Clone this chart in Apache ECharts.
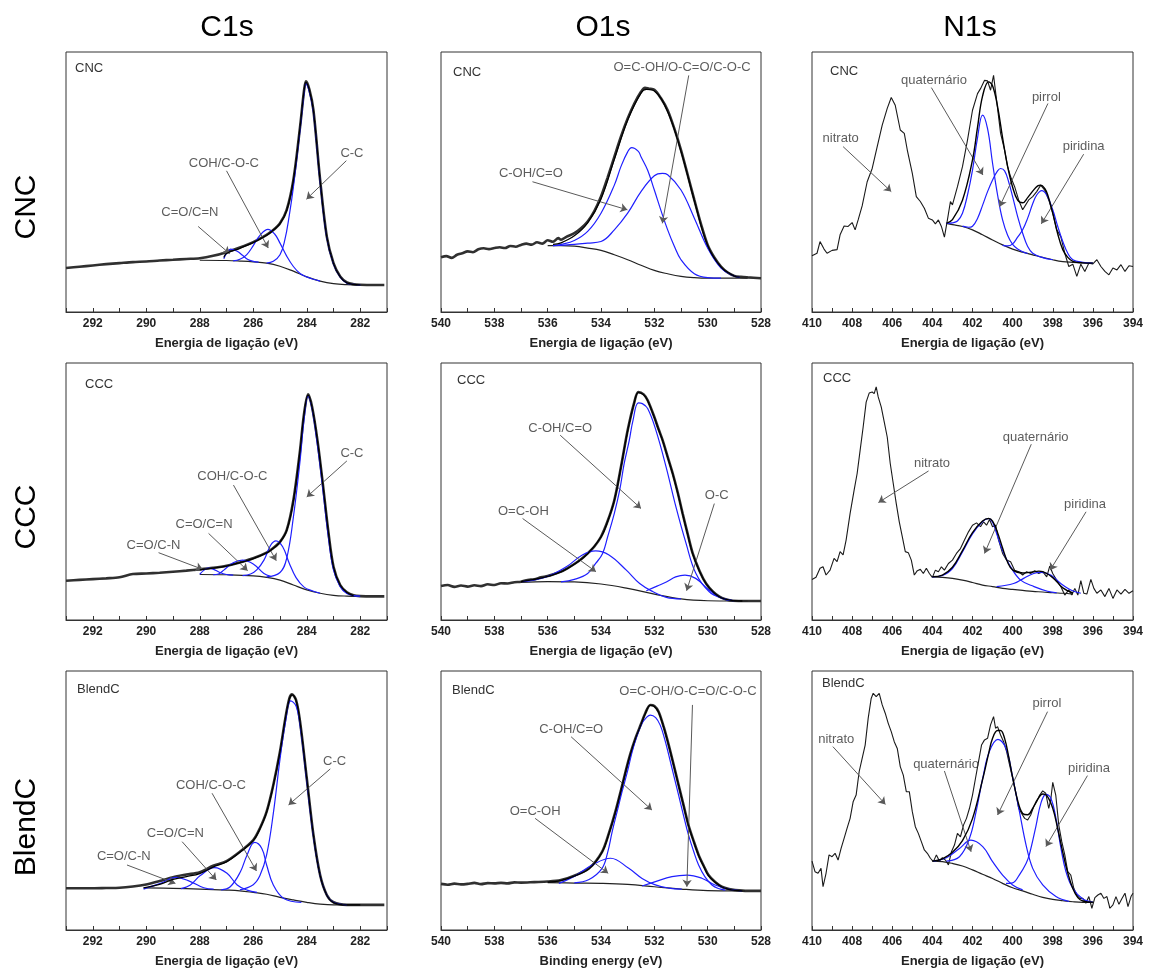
<!DOCTYPE html>
<html><head><meta charset="utf-8">
<script src="https://cdn.jsdelivr.net/npm/echarts@6.0.0/dist/echarts.min.js"></script>
<style>html,body{margin:0;padding:0;background:#fff}#c{width:1149px;height:972px}</style>
</head><body><div id="c"></div>
<script>
// ---------- Column / row headings ----------
const COLUMN_TITLES = ['C1s', 'O1s', 'N1s'];
const ROW_TITLES = ['CNC', 'CCC', 'BlendC'];
const X_NAMES = ['Energia de ligação (eV)', 'Energia de ligação (eV)', 'Energia de ligação (eV)',
                 'Energia de ligação (eV)', 'Energia de ligação (eV)', 'Energia de ligação (eV)',
                 'Energia de ligação (eV)', 'Binding energy (eV)', 'Energia de ligação (eV)'];
const X_RANGES = [[281, 293], [528, 540], [394, 410]];

// ---------- C1s CNC ----------
const C1S_CNC_RAW = [[293,16.9],[292.5,17.4],[292,17.9],[291.5,18.4],[291,18.8],[290.5,19.2],[290,19.4],[289.5,19.8],[289,20.1],[288.5,20.4],[288,20.7],[287.5,21.6],[287,23.0],[286.5,24.8],[286,26.9],[285.5,29.7],[285.25,31.5],[285,34.1],[284.75,39.3],[284.5,50.8],[284.25,71.2],[284.1,85.3],[284.03,88.7],[283.9,85.5],[283.75,77.6],[283.5,50.8],[283.25,29],[283,18.8],[282.75,13.7],[282.5,11.4],[282.25,10.7],[282,10.5],[281.5,10.4],[281.1,10.4]];
const C1S_CNC_BG = [[288,19.9],[287,19.8],[286.5,19.6],[286,19.3],[285.5,18.8],[285,17.6],[284.5,15.7],[284,13.5],[283.5,11.9],[283,10.9],[282.5,10.5],[282,10.4]];
const C1S_CNC_ENV = [[287.1,21.0],[287,22.5],[286.5,24.5],[286,26.7],[285.5,29.5],[285.25,31.5],[285,34],[284.75,39],[284.5,50.5],[284.25,71],[284.1,85],[284.03,88.3],[283.9,85.2],[283.75,77.3],[283.5,50.5],[283.25,28.8],[283,18.6],[282.75,13.5],[282.5,11.2],[282,10.4]];
const C1S_CNC_CC = [[285.5,18.8],[285.25,19.5],[285,22],[284.82,27.7],[284.66,36.7],[284.5,48],[284.25,70],[284.1,84],[284.03,87.8],[283.9,84.5],[283.75,76.8],[283.5,50],[283.25,28.5],[283,18.4],[282.75,13.4],[282.5,11.1],[282.25,10.6],[282,10.4]];
const C1S_CNC_COH = [[286.75,19.7],[286.5,20.3],[286.25,22],[286,25.5],[285.75,29.5],[285.45,31.8],[285.2,30],[285,26.5],[284.75,21.5],[284.5,17.5],[284.25,14.8],[284,13.5],[283.75,12.6],[283.5,11.9]];
const C1S_CNC_CON = [[287.1,20.5],[287,22.5],[286.85,24.2],[286.6,23.4],[286.4,21.8],[286.2,20.2],[286,19.5],[285.8,19.2]];
const C1S_CNC_TEXT = [[288.37,38.4,'C=O/C=N'],[287.10,57.2,'COH/C-O-C'],[282.31,61.0,'C-C']];
const C1S_CNC_ARROWS = [[288.06,32.9,286.88,22.4],[287.0,54.3,285.44,24.6],[282.52,58.2,284.01,43.4]];

// ---------- O1s CNC ----------
const O1S_CNC_RAW = [[540,21.1],[539.8,21.5],[539.6,20.8],[539.4,22.0],[539.2,22.6],[539,23.3],[538.8,23.0],[538.6,24.1],[538.4,24.5],[538.2,24.2],[538,24.6],[537.8,24.9],[537.6,24.6],[537.4,25.4],[537.2,25.1],[537,25.8],[536.8,26.3],[536.6,25.9],[536.4,26.8],[536.2,26.3],[536,27.6],[535.8,27.0],[535.6,28.4],[535.5,27.8],[535.3,28.9],[535,30.3],[534.75,32.2],[534.5,34.8],[534.25,38.8],[534,44.4],[533.75,51.8],[533.5,59.7],[533.25,67.5],[533,74.4],[532.75,80.2],[532.5,84.7],[532.35,86.2],[532.2,85.9],[532,85.5],[531.75,82.2],[531.5,77.6],[531.25,70.5],[531,62.3],[530.75,52.8],[530.5,43.1],[530.25,33.8],[530,25.8],[529.75,21.0],[529.5,17.5],[529.25,15.2],[529,13.9],[528.75,13.5],[528.5,13.3],[528,13.0]];
const O1S_CNC_BG = [[536,25.5],[535.5,25.5],[535,25.3],[534.5,24.6],[534,23.7],[533.5,22.0],[533,20.1],[532.5,18.0],[532,16.0],[531.5,14.7],[531,13.7],[530.5,13.2],[530,13.0],[529,13.0],[528.5,13.0]];
const O1S_CNC_ENV = [[535.8,26.0],[535.5,26.6],[535,29.3],[534.5,34.3],[534,43.5],[533.5,58.7],[533,73.8],[532.5,84.2],[532.3,85.6],[532,85.0],[531.5,77.0],[531,61.8],[530.5,42.8],[530,25.6],[529.5,17.3],[529,13.8],[528.8,13.4]];
const O1S_CNC_CO = [[535.8,25.5],[535.5,26],[535,27.5],[534.5,31],[534,38],[533.5,48.8],[533.25,56],[533,61.6],[532.85,63.2],[532.6,61.8],[532.5,59.7],[532.25,54.5],[532,46.9],[531.75,39],[531.5,31.6],[531.25,25.3],[531,20.1],[530.5,14.7],[530,13.2],[529.5,13.0]];
const O1S_CNC_OCO = [[535.8,25.5],[535,26],[534.5,26.5],[534,27.1],[533.5,31.6],[533,38.0],[532.5,46.3],[532,52.4],[531.7,53.3],[531.5,52.8],[531,46.9],[530.5,36.1],[530,24.6],[529.5,16.9],[529,13.8],[528.8,13.3]];
const O1S_CNC_TEXT = [[530.96,94.2,'O=C-OH/O-C=O/C-O-C'],[536.63,53.3,'C-OH/C=O']];
const O1S_CNC_ARROWS = [[530.71,91.0,531.70,34.1],[536.57,50.1,533.01,39.3]];

// ---------- N1s CNC ----------
const N1S_CNC_RAW = [[410,21.6],[409.75,22.6],[409.6,27.1],[409.4,24.2],[409.25,22.6],[409,23.7],[408.75,24.0],[408.6,29.7],[408.4,33.1],[408.2,32.9],[408,34.4],[407.85,31.6],[407.7,35.4],[407.5,40.8],[407.25,50.1],[407,55.2],[406.75,63.6],[406.5,71.9],[406.25,78.3],[406.05,82.5],[405.85,79.5],[405.6,70.0],[405.4,68.7],[405.25,62.3],[405,53.3],[404.8,44.4],[404.6,42.5],[404.4,39.9],[404.2,36.1],[404,35.4],[403.85,33.9],[403.7,35.4],[403.55,32.9],[403.4,28.8],[403.25,35.4],[403.1,42.5],[403.0,41.2],[402.75,48.2],[402.5,55.9],[402.25,66.1],[402,77.6],[401.75,84.0],[401.6,85.9],[401.4,89.1],[401.25,88.9],[401.1,85.3],[400.95,91.0],[400.8,81.5],[400.6,68.7],[400.4,62.3],[400.25,55.9],[400.1,52.0],[399.9,48.2],[399.7,43.1],[399.5,39.3],[399.35,41.2],[399.2,43.1],[399,44.4],[398.8,46.3],[398.6,48.8],[398.4,46.9],[398.2,43.1],[398,38.0],[397.8,31.6],[397.6,29.0],[397.4,22.6],[397.2,17.5],[397,18.4],[396.8,13.7],[396.6,18.4],[396.4,15.6],[396.2,18.8],[396,18.5],[395.8,20.1],[395.6,17.5],[395.4,15.6],[395.2,14.3],[395,16.9],[394.8,16.2],[394.6,18.2],[394.4,15.6],[394.2,17.8],[394,17.5]];
const N1S_CNC_BG = [[403.3,34.1],[403,33.6],[402.5,32.9],[402,31.6],[401.5,29.7],[401,27.7],[400.5,25.8],[400,24.2],[399.5,23.0],[399,22.0],[398.5,21.0],[398,20.1],[397.5,19.4],[397,19.1],[396.5,18.9],[396,18.8]];
const N1S_CNC_ENV = [[403.3,34.1],[403,35.5],[402.5,43],[402,58.5],[401.75,71],[401.5,83],[401.2,88.5],[401,87],[400.75,79],[400.5,67],[400.25,56],[400,48],[399.75,43],[399.5,42],[399.25,44],[399,46.5],[398.75,48.5],[398.6,48.8],[398.4,47.5],[398.25,45],[398,38],[397.75,30],[397.5,24],[397.25,21],[397,19.5],[396.5,18.9],[396,18.8]];
const N1S_CNC_Q = [[403.3,34.1],[403,34.3],[402.75,35],[402.5,38],[402.25,45],[402,54.6],[401.75,67],[401.5,75.7],[401.25,70.5],[401,57.2],[400.75,45],[400.5,35.4],[400.25,29.5],[400,26],[399.75,24.2],[399.5,23.2],[399.25,22.5]];
const N1S_CNC_P = [[402.5,33],[402.2,32.6],[402,33],[401.75,36],[401.5,41],[401.25,46.3],[401,50.8],[400.75,54.3],[400.6,55.2],[400.4,54.3],[400.2,50.1],[400,44.4],[399.75,36.7],[399.5,30.3],[399.25,25.2],[399,22.6],[398.5,20.9],[398,20.1]];
const N1S_CNC_PY = [[400.5,25.6],[400.25,25.4],[400,26.2],[399.75,28.8],[399.5,31.6],[399.25,36.1],[399,41.6],[398.8,45.0],[398.55,46.7],[398.3,45.0],[398,39.3],[397.75,32.9],[397.5,27.1],[397.25,22.6],[397,20.1],[396.5,19.1],[396,18.8]];
const N1S_CNC_TEXT = [[408.57,66.8,'nitrato'],[403.92,89.1,'quaternário'],[398.32,82.7,'pirrol'],[396.46,63.6,'piridina']];
const N1S_CNC_ARROWS = [[408.45,63.6,406.05,46.3],[404.05,86.3,401.48,52.7],[398.24,80.2,400.65,40.5],[396.46,60.7,398.57,33.9]];

// ---------- C1s CCC ----------
const C1S_CCC_RAW = [[293,15.3],[292.5,15.6],[292,15.9],[291.5,16.2],[291,16.6],[290.5,17.9],[290,18.1],[289.5,18.4],[289,18.8],[288.5,19.2],[288,19.7],[287.5,20.3],[287,21.1],[286.5,22.4],[286,24.0],[285.5,26.2],[285.25,28],[285,30.4],[284.75,35.0],[284.5,46.6],[284.25,66.1],[284.1,80.3],[283.95,87.8],[283.8,82.9],[283.6,69.9],[283.4,53.1],[283.2,35.0],[283,20.7],[282.75,13.6],[282.5,10.8],[282.25,9.6],[282,9.3],[281.5,9.2],[281.1,9.2]];
const C1S_CCC_BG = [[288,17.7],[287,17.6],[286,17.2],[285.5,16.6],[285,15.5],[284.5,13.6],[284,11.7],[283.5,10.4],[283,9.6],[282.5,9.3],[282,9.2]];
const C1S_CCC_ENV = [[288,19.5],[287.5,20.2],[287,21.0],[286.5,22.3],[286,23.9],[285.5,26.1],[285.25,27.9],[285,30.3],[284.75,34.8],[284.5,46.3],[284.25,65.8],[284.1,80],[283.95,87.5],[283.8,82.6],[283.6,69.6],[283.4,52.8],[283.2,34.8],[283,20.5],[282.75,13.5],[282.5,10.7],[282.25,9.5]];
const C1S_CCC_CC = [[285.5,16.8],[285,18.5],[284.75,24],[284.5,40],[284.25,62],[284.1,78],[283.95,87],[283.8,82],[283.6,68],[283.4,51],[283.2,33],[283,19.5],[282.75,13],[282.5,10.3],[282.25,9.5],[282,9.3]];
const C1S_CCC_COH = [[286.4,17.3],[286.1,17.9],[285.87,19.5],[285.6,23.3],[285.35,29.1],[285.15,30.8],[284.9,28.5],[284.65,22],[284.4,16.5],[284.1,12.8],[283.8,11.4],[283.5,10.4]];
const C1S_CCC_CON = [[287.5,17.6],[287.3,17.9],[287.1,19.4],[286.75,22.3],[286.4,23.3],[286,21.8],[285.6,18.1],[285.35,17.0]];
const C1S_CCC_CN = [[288,17.8],[287.85,19.3],[287.7,20.2],[287.5,19.8],[287.25,18.5],[287,17.7],[286.75,17.5]];
const C1S_CCC_TEXT = [[289.73,29.1,'C=O/C-N'],[287.84,37.2,'C=O/C=N'],[286.78,56.0,'COH/C-O-C'],[282.31,64.8,'C-C']];
const C1S_CCC_ARROWS = [[289.54,26.2,287.89,19.7],[287.67,33.7,286.21,19.2],[286.74,52.5,285.14,23.1],[282.50,61.9,284.0,47.9]];

// ---------- O1s CCC ----------
const O1S_CCC_RAW = [[540,13.2],[539.75,13.6],[539.5,12.9],[539.25,13.4],[539,13.0],[538.75,13.5],[538.5,13.2],[538.25,13.9],[538,13.6],[537.75,14.3],[537.5,14.2],[537.25,14.7],[537,14.9],[536.75,15.6],[536.5,15.8],[536.25,16.6],[536,17.1],[535.75,17.9],[535.5,18.8],[535.25,20.2],[535,21.8],[534.75,23.6],[534.5,25.9],[534.25,28.6],[534,32.4],[533.75,38.5],[533.5,46.6],[533.25,59.6],[533,73.8],[532.75,84.8],[532.6,88.7],[532.4,87.8],[532.25,85.5],[532,79.0],[531.85,74.5],[531.69,70.0],[531.5,63.5],[531.31,57.0],[531.12,49.5],[530.94,41.5],[530.75,33.5],[530.56,25.9],[530.3,19.0],[530.06,14.2],[529.8,11.0],[529.56,9.1],[529.3,8.0],[529.06,7.5],[528.5,7.4],[528,7.4]];
const O1S_CCC_BG = [[537,14.6],[536,14.9],[535,14.8],[534,14.0],[533,12.3],[532,10.1],[531,8.2],[530,7.5],[529,7.4],[528.5,7.4]];
const O1S_CCC_ENV = [[537,14.9],[536.5,15.8],[536,17.0],[535.5,18.7],[535,21.7],[534.5,25.8],[534,32.3],[533.75,38.4],[533.5,46.5],[533.25,59.5],[533,73.6],[532.75,84.6],[532.6,88.5],[532.4,87.6],[532.25,85.3],[532,78.8],[531.85,74.3],[531.69,69.8],[531.5,63.3],[531.31,56.8],[531.12,49.3],[530.94,41.3],[530.75,33.3],[530.56,25.7],[530.3,18.8],[530.06,14.1],[529.8,10.9],[529.56,9.0],[529.3,8.0],[529.06,7.5],[528.7,7.4]];
const O1S_CCC_CO = [[535.5,14.8],[535,15.8],[534.5,18.1],[534.2,22.0],[533.94,25.9],[533.75,32.4],[533.5,41.5],[533.3,50.5],[533.13,60.9],[532.94,69.9],[532.8,77.7],[532.6,84.5],[532.45,84.2],[532.25,82.3],[531.94,73.8],[531.56,59.6],[531.19,44.0],[530.81,29.8],[530.44,18.1],[529.94,11.0],[529.44,8.4],[529.0,7.5]];
const O1S_CCC_OCOH = [[536.95,14.9],[536.05,16.8],[535.3,20.7],[534.7,25.3],[534.2,26.9],[533.7,25.3],[533.05,19.4],[532.55,14.2],[532.05,11.0],[531.55,8.8],[531,8.2]];
const O1S_CCC_OC = [[532.3,11.4],[531.9,13.2],[531.55,14.8],[531.2,16.8],[530.85,17.5],[530.45,16.2],[529.95,11.7],[529.45,8.4],[529.05,7.5]];
const O1S_CCC_TEXT = [[535.53,74.5,'C-OH/C=O'],[536.91,42.1,'O=C-OH'],[529.66,48.3,'O-C']];
const O1S_CCC_ARROWS = [[535.53,71.9,532.5,43.4],[536.94,39.5,534.19,18.8],[529.75,45.3,530.79,11.4]];

// ---------- N1s CCC ----------
const N1S_CCC_RAW = [[410,15.8],[409.8,16.6],[409.6,20.1],[409.45,20.7],[409.3,17.5],[409.1,19.4],[408.9,24.0],[408.75,22.7],[408.6,26.6],[408.45,25.3],[408.3,31.1],[408.1,41.5],[407.9,50.5],[407.75,57.0],[407.6,66.1],[407.45,75.1],[407.3,84.8],[407.15,88.3],[407.0,88.7],[406.9,88.1],[406.8,90.7],[406.7,86.8],[406.55,82.9],[406.4,77.1],[406.25,71.2],[406.1,60.9],[405.95,53.1],[405.8,45.3],[405.65,38.2],[405.5,32.4],[405.35,26.6],[405.2,26.2],[405.05,23.3],[404.9,17.5],[404.75,19.2],[404.6,19.7],[404.45,18.1],[404.3,20.1],[404.15,18.1],[404,16.6],[403.85,19.4],[403.7,18.8],[403.55,20.7],[403.4,19.4],[403.2,22.0],[403,23.3],[402.8,25.9],[402.6,27.8],[402.4,31.1],[402.2,34.3],[402,36.9],[401.8,37.8],[401.6,36.3],[401.45,38.2],[401.3,36.9],[401.15,39.1],[401,36.3],[400.85,36.9],[400.7,31.1],[400.5,25.9],[400.3,23.3],[400.1,22.7],[399.9,19.4],[399.7,18.8],[399.5,17.5],[399.3,18.8],[399.1,18.1],[398.9,19.2],[398.7,18.1],[398.5,18.8],[398.3,16.8],[398.15,21.0],[398,18.1],[397.8,15.5],[397.6,13.0],[397.4,9.7],[397.2,11.7],[397.05,9.7],[396.9,12.3],[396.75,9.7],[396.6,15.3],[396.45,10.4],[396.3,10.1],[396.1,15.8],[395.95,12.3],[395.8,10.4],[395.6,11.7],[395.4,9.1],[395.2,12.3],[395,8.4],[394.8,11.7],[394.6,10.1],[394.4,11.9],[394.2,10.4],[394,11.4]];
const N1S_CCC_BG = [[404,16.8],[403.5,16.6],[403,16.2],[402.5,15.5],[402,14.6],[401.5,13.6],[401,13.0],[400.5,12.3],[400,11.9],[399.5,11.5],[399,11.1],[398.5,10.9],[398,10.6],[397.5,10.4],[397,10.1]];
const N1S_CCC_ENV = [[404,16.8],[403.5,17.5],[403,20.5],[402.5,27],[402,34],[401.5,38.5],[401.2,39.5],[401,38.5],[400.75,34],[400.5,28],[400.25,22.5],[400,19.5],[399.5,18.3],[399,18.7],[398.7,19],[398.5,18.8],[398,16.5],[397.5,12.5],[397,10.5]];
const N1S_CCC_Q = [[404,16.8],[403.5,17.3],[403,20],[402.5,26.5],[402,33.5],[401.5,38.3],[401.2,39.5],[401,38],[400.77,33],[400.5,27],[400.1,20.7],[399.6,15.5],[398.93,13.0],[398.26,11.2],[397.8,10.6]];
const N1S_CCC_PY = [[400.8,13.0],[399.95,14.2],[399.45,16.2],[398.95,18.1],[398.6,18.5],[398.1,17.5],[397.6,14.2],[397.1,11.7],[396.6,10.4]];
const N1S_CCC_TEXT = [[404.02,61.1,'nitrato'],[398.85,71.0,'quaternário'],[396.39,44.9,'piridina']];
const N1S_CCC_ARROWS = [[404.19,58.0,406.69,45.7],[399.07,68.4,401.40,25.9],[396.34,42.1,398.13,19.4]];

// ---------- C1s BlendC ----------
const C1S_BLEND_RAW = [[293,16.1],[292.5,16.1],[292,16.1],[291.5,16.2],[291,16.3],[290.5,16.8],[290,17.6],[289.5,18.9],[289,20.4],[288.5,21.4],[288,22.3],[287.5,24.8],[287,26.6],[286.5,30.2],[286,34.7],[285.75,39.3],[285.5,45.7],[285.25,56.0],[285,68.9],[284.8,81.7],[284.65,89.4],[284.55,91.0],[284.4,88.8],[284.25,80.4],[284,58.6],[283.75,36.7],[283.5,21.2],[283.25,13.5],[283,10.7],[282.5,9.7],[282,9.7],[281.5,9.7],[281.1,9.7]];
const C1S_BLEND_BG = [[290.1,16.3],[289,16.1],[288,15.8],[287,15.4],[286.5,15.1],[286,14.5],[285.5,13.8],[285,12.6],[284.5,11.6],[284,10.7],[283.5,10.0],[283,9.7],[282,9.7]];
const C1S_BLEND_ENV = [[290.1,16.3],[289.5,17.6],[289,19.5],[288.5,20.6],[288,21.8],[287.5,24.3],[287,26.3],[286.5,30.0],[286,34.5],[285.75,39.1],[285.5,45.5],[285.25,55.8],[285,68.7],[284.8,81.5],[284.65,89.2],[284.55,90.8],[284.4,88.6],[284.25,80.2],[284,58.4],[283.75,36.5],[283.5,21.0],[283.25,13.4],[283,10.6],[282.5,9.7],[282,9.7]];
const C1S_BLEND_CC = [[286.5,15.5],[286,17.5],[285.75,21],[285.5,29],[285.25,45],[285,66],[284.8,80],[284.6,88.5],[284.4,86.5],[284.25,79],[284,57.5],[283.75,36],[283.5,21],[283.25,13.5],[283,10.7],[282.5,9.7]];
const C1S_BLEND_COH = [[287.2,15.5],[286.86,16.7],[286.48,22.5],[286.23,29.0],[285.95,33.8],[285.68,31.5],[285.5,25.1],[285.25,17.4],[284.86,12.2],[284.2,10.7]];
const C1S_BLEND_CON = [[288.7,16.0],[288.35,17.4],[287.98,21.0],[287.45,24.1],[286.98,21.9],[286.6,17.4],[286.23,15.4],[285.86,14.5]];
const C1S_BLEND_CN = [[290.1,15.8],[289.47,18.0],[288.88,20.3],[288.35,18.7],[287.85,16.3],[287.48,15.8]];
const C1S_BLEND_TEXT = [[290.84,28.6,'C=O/C-N'],[288.91,37.3,'C=O/C=N'],[287.58,56.0,'COH/C-O-C'],[282.96,65.0,'C-C']];
const C1S_BLEND_ARROWS = [[290.72,25.1,288.91,18.0],[288.66,34.1,287.38,19.3],[287.54,52.8,285.88,22.8],[283.12,62.2,284.68,48.3]];

// ---------- O1s BlendC ----------
const O1S_BLEND_RAW = [[540,17.8],[539.75,17.5],[539.5,17.9],[539.25,17.6],[539,17.8],[538.75,18.2],[538.5,17.7],[538.25,18.1],[538,18.0],[537.75,18.2],[537.5,18.0],[537.25,18.4],[537,18.3],[536.5,18.5],[536,18.7],[535.5,19.3],[535,21.0],[534.45,23.8],[533.96,30.2],[533.7,37.5],[533.46,45.7],[533.25,54],[533.08,61.1],[532.9,68],[532.71,74.0],[532.5,79.5],[532.34,83.7],[532.15,86.9],[532,86.5],[531.84,84.3],[531.65,78.5],[531.46,71.4],[531.28,64],[531.09,56.0],[530.9,48],[530.72,40.5],[530.53,34.5],[530.34,29.0],[530.15,24.8],[529.97,21.2],[529.72,18.5],[529.47,16.7],[529.2,15.8],[528.97,15.4],[528.5,15.1],[528,15.1]];
const O1S_BLEND_BG = [[536,18.3],[535,18.1],[534,18.0],[533,17.6],[532,16.7],[531,15.8],[530,15.2],[529,15.1],[528.6,15.1]];
const O1S_BLEND_ENV = [[536,18.5],[535.5,19.1],[535,20.8],[534.45,23.6],[533.96,30.0],[533.7,37.3],[533.46,45.5],[533.25,53.8],[533.08,60.9],[532.9,67.8],[532.71,73.8],[532.5,79.3],[532.34,83.5],[532.15,86.7],[532,86.3],[531.84,84.1],[531.65,78.3],[531.46,71.2],[531.28,63.8],[531.09,55.8],[530.9,47.8],[530.72,40.3],[530.53,34.3],[530.34,28.8],[530.15,24.6],[529.97,21.0],[529.72,18.4],[529.47,16.6],[529.2,15.7],[528.97,15.3],[528.7,15.1]];
const O1S_BLEND_CO = [[535,18.2],[534.45,19.5],[533.96,23.8],[533.75,30],[533.58,38.0],[533.4,45.5],[533.21,53.4],[533.0,61.5],[532.83,68.9],[532.65,75],[532.46,79.8],[532.3,82],[532.15,83.0],[531.95,82],[531.78,79.1],[531.62,74],[531.46,67.6],[531.28,60],[531.09,52.1],[530.9,44],[530.72,36.7],[530.53,30.5],[530.34,25.1],[530.1,20.5],[529.84,17.4],[529.6,16.0],[529.34,15.4]];
const O1S_BLEND_OCOH = [[535.58,18.0],[534.95,21.0],[534.33,25.1],[533.64,27.7],[532.96,23.8],[532.46,19.9],[531.96,17.4],[531.46,16.2],[530.97,15.8]];
const O1S_BLEND_OCO = [[532.46,17.0],[531.96,18.7],[531.34,20.6],[530.78,21.2],[530.22,20.0],[529.72,17.4],[529.22,15.8],[528.72,15.1]];
const O1S_BLEND_TEXT = [[530.74,92.3,'O=C-OH/O-C=O/C-O-C'],[535.12,77.6,'C-OH/C=O'],[536.47,45.9,'O=C-OH']];
const O1S_BLEND_ARROWS = [[530.57,86.9,530.78,16.7],[535.12,74.6,532.09,46.3],[536.47,43.1,533.73,21.9]];

// ---------- N1s BlendC ----------
const N1S_BLEND_RAW = [[410,26.6],[409.85,22.5],[409.7,21.9],[409.55,23.8],[409.45,16.7],[409.3,21.9],[409.15,29.0],[409.0,28.3],[408.85,29.6],[408.7,27.0],[408.55,31.5],[408.4,35.4],[408.25,39.3],[408.1,43.1],[407.95,49.5],[407.8,52.1],[407.65,61.1],[407.5,66.3],[407.35,71.4],[407.2,81.7],[407.05,89.4],[406.95,91.4],[406.8,90.1],[406.65,91.4],[406.5,86.9],[406.35,83.7],[406.2,79.8],[406.05,76.6],[405.9,72.7],[405.75,70.1],[405.6,63.1],[405.45,59.8],[405.3,53.4],[405.15,53.4],[405,45.7],[404.85,39.9],[404.7,37.3],[404.55,34.1],[404.4,30.9],[404.25,29.6],[404.1,27.7],[403.95,26.4],[403.8,29.0],[403.65,26.6],[403.5,27.9],[403.35,27.0],[403.2,25.1],[403.05,30.2],[402.9,32.8],[402.75,37.3],[402.6,36.0],[402.45,40.5],[402.3,43.1],[402.15,47.0],[402,52.1],[401.85,58.6],[401.7,65.0],[401.55,71.4],[401.4,73.4],[401.25,74.0],[401.1,79.2],[400.95,82.4],[400.85,77.9],[400.75,78.5],[400.6,75.3],[400.45,72.7],[400.3,68.9],[400.15,63.7],[400,58.6],[399.85,53.4],[399.7,47.0],[399.55,45.0],[399.4,43.1],[399.25,42.5],[399.1,44.4],[398.95,47.6],[398.8,49.5],[398.65,52.1],[398.5,53.7],[398.35,52.8],[398.2,47.0],[398.1,50.2],[398.0,57.0],[397.85,52.1],[397.7,40.5],[397.55,34.1],[397.4,29.0],[397.25,22.5],[397.1,21.2],[396.95,16.1],[396.8,13.5],[396.65,12.2],[396.5,12.2],[396.35,10.3],[396.2,12.9],[396.05,8.4],[395.9,12.5],[395.75,13.5],[395.6,14.2],[395.45,12.2],[395.3,12.9],[395.15,8.4],[395,9.7],[394.85,12.9],[394.7,9.9],[394.55,12.2],[394.4,14.2],[394.25,9.0],[394.1,12.9],[394,14.2]];
const N1S_BLEND_BG = [[404,26.6],[403.5,26.4],[403,25.7],[402.5,24.7],[402,23.2],[401.5,21.5],[401,19.9],[400.5,18.0],[400,16.3],[399.5,15.1],[399,13.8],[398.5,12.6],[398,11.8],[397.5,11.3],[397,10.9],[396.5,10.7],[396,10.7]];
const N1S_BLEND_ENV = [[404,26.6],[403.5,27.5],[403,30],[402.5,34.5],[402,43],[401.5,58],[401.2,68],[401,74],[400.75,77],[400.6,77],[400.4,74],[400.2,67],[400,59],[399.75,50],[399.5,45],[399.25,44.5],[399,47],[398.75,50.5],[398.5,52.5],[398.3,52],[398,47],[397.75,39],[397.5,30],[397.25,22],[397,16],[396.75,12.5],[396.5,11.2],[396,10.7]];
const N1S_BLEND_Q = [[403.95,26.6],[403.3,27.9],[402.65,31.5],[402.08,34.7],[401.49,32.2],[401.0,26.4],[400.5,21.2],[400.0,17.4],[399.5,15.5]];
const N1S_BLEND_P = [[403.3,26.6],[402.65,28.3],[402.15,35.4],[401.82,45.7],[401.49,58.6],[401.16,68.9],[400.73,73.6],[400.33,70.1],[399.99,58.6],[399.66,45.7],[399.33,32.8],[399.0,23.8],[398.5,17.4],[397.84,12.9],[397.18,11.0]];
const N1S_BLEND_PY = [[400.33,18.0],[400.0,18.2],[399.67,21.2],[399.33,25.7],[399.17,29.0],[398.84,40.0],[398.59,49.0],[398.34,52.4],[398.09,50.8],[397.84,43.1],[397.59,31.5],[397.34,22.5],[397.0,16.1],[396.5,12.0],[396.0,10.8]];
const N1S_BLEND_TEXT = [[408.79,73.4,'nitrato'],[403.32,64.1,'quaternário'],[398.29,87.3,'pirrol'],[396.19,62.4,'piridina']];
const N1S_BLEND_ARROWS = [[408.96,70.8,406.34,48.5],[403.40,61.4,402.07,30.2],[398.26,84.3,400.75,44.4],[396.27,59.6,398.34,32.2]];

// ---------- assembly ----------
const PANELS = [
  {tag:'CNC', raw:C1S_CNC_RAW, bg:C1S_CNC_BG, env:C1S_CNC_ENV, comps:[C1S_CNC_CC,C1S_CNC_COH,C1S_CNC_CON], text:C1S_CNC_TEXT, arrows:C1S_CNC_ARROWS},
  {tag:'CNC', raw:O1S_CNC_RAW, bg:O1S_CNC_BG, env:O1S_CNC_ENV, comps:[O1S_CNC_CO,O1S_CNC_OCO], text:O1S_CNC_TEXT, arrows:O1S_CNC_ARROWS},
  {tag:'CNC', raw:N1S_CNC_RAW, bg:N1S_CNC_BG, env:N1S_CNC_ENV, comps:[N1S_CNC_Q,N1S_CNC_P,N1S_CNC_PY], text:N1S_CNC_TEXT, arrows:N1S_CNC_ARROWS},
  {tag:'CCC', raw:C1S_CCC_RAW, bg:C1S_CCC_BG, env:C1S_CCC_ENV, comps:[C1S_CCC_CC,C1S_CCC_COH,C1S_CCC_CON,C1S_CCC_CN], text:C1S_CCC_TEXT, arrows:C1S_CCC_ARROWS},
  {tag:'CCC', raw:O1S_CCC_RAW, bg:O1S_CCC_BG, env:O1S_CCC_ENV, comps:[O1S_CCC_CO,O1S_CCC_OCOH,O1S_CCC_OC], text:O1S_CCC_TEXT, arrows:O1S_CCC_ARROWS},
  {tag:'CCC', raw:N1S_CCC_RAW, bg:N1S_CCC_BG, env:N1S_CCC_ENV, comps:[N1S_CCC_Q,N1S_CCC_PY], text:N1S_CCC_TEXT, arrows:N1S_CCC_ARROWS},
  {tag:'BlendC', raw:C1S_BLEND_RAW, bg:C1S_BLEND_BG, env:C1S_BLEND_ENV, comps:[C1S_BLEND_CC,C1S_BLEND_COH,C1S_BLEND_CON,C1S_BLEND_CN], text:C1S_BLEND_TEXT, arrows:C1S_BLEND_ARROWS},
  {tag:'BlendC', raw:O1S_BLEND_RAW, bg:O1S_BLEND_BG, env:O1S_BLEND_ENV, comps:[O1S_BLEND_CO,O1S_BLEND_OCOH,O1S_BLEND_OCO], text:O1S_BLEND_TEXT, arrows:O1S_BLEND_ARROWS},
  {tag:'BlendC', raw:N1S_BLEND_RAW, bg:N1S_BLEND_BG, env:N1S_BLEND_ENV, comps:[N1S_BLEND_Q,N1S_BLEND_P,N1S_BLEND_PY], text:N1S_BLEND_TEXT, arrows:N1S_BLEND_ARROWS}
];

// layout (pixels)
const FONT = '"Liberation Sans", Arial, Helvetica, sans-serif';
const GRID_LEFT = [66, 441, 812];
const GRID_W = [321, 320, 321];
const GRID_TOP = [52, 363, 671];
const GRID_H = [260, 257, 259];
const TAG_POS = [[75,68],[453,72],[830,71],[85,384],[457,380],[823,378],[77,689],[452,690],[822,683]];
const BLUE = '#1f1fff';

const grids = [], xAxes = [], yAxes = [], series = [], graphics = [];
PANELS.forEach((p, i) => {
  const r = Math.floor(i / 3), c = i % 3;
  grids.push({left: GRID_LEFT[c], top: GRID_TOP[r], width: GRID_W[c], height: GRID_H[r],
    show: true, borderColor: '#333', borderWidth: 1, backgroundColor: 'transparent', containLabel: false, outerBoundsMode: 'none'});
  xAxes.push({gridIndex: i, type: 'value', inverse: true, min: X_RANGES[c][0], max: X_RANGES[c][1], interval: 1,
    name: X_NAMES[i], nameLocation: 'middle', nameGap: 25,
    nameTextStyle: {fontWeight: 'bold', fontSize: 13, color: '#222', fontFamily: FONT},
    axisLine: {onZero: false, lineStyle: {color: '#333', width: 1}},
    axisTick: {inside: true, length: 4, lineStyle: {color: '#333', width: 1}},
    axisLabel: {interval: 0, margin: 6, fontWeight: 'bold', fontSize: 12, color: '#222', fontFamily: FONT,
      formatter: v => (Math.round(v) % 2 === 0 ? String(Math.round(v)) : '')},
    splitLine: {show: false}});
  yAxes.push({gridIndex: i, type: 'value', min: 0, max: 100, show: false});

  const noisy = c === 2;
  series.push({type: 'line', xAxisIndex: i, yAxisIndex: i, data: p.raw, symbol: 'none', showSymbol: false,
    smooth: noisy ? false : 0.3, lineStyle: {color: noisy ? '#1a1a1a' : '#303030', width: noisy ? 1.1 : 2.6}, silent: true, z: 2});
  series.push({type: 'line', xAxisIndex: i, yAxisIndex: i, data: p.bg, symbol: 'none', showSymbol: false,
    smooth: 0.4, lineStyle: {color: '#222', width: 1.2}, silent: true, z: 3});
  p.comps.forEach(d => series.push({type: 'line', xAxisIndex: i, yAxisIndex: i, data: d, symbol: 'none', showSymbol: false,
    smooth: 0.4, lineStyle: {color: BLUE, width: 1.2}, silent: true, z: 4}));
  series.push({type: 'line', xAxisIndex: i, yAxisIndex: i, data: p.env, symbol: 'none', showSymbol: false,
    smooth: 0.4, lineStyle: {color: '#000', width: noisy ? 1.4 : 1.3}, silent: true, z: 5});
  series.push({type: 'scatter', xAxisIndex: i, yAxisIndex: i, symbolSize: 1, itemStyle: {color: 'rgba(0,0,0,0)'},
    data: p.text.map(t => ({value: [t[0], t[1]], name: t[2]})), silent: true, z: 10,
    label: {show: true, position: 'inside', formatter: '{b}', color: '#333', fontSize: 13, fontFamily: FONT},
    markLine: {silent: true, symbol: ['none', 'arrow'], symbolSize: 7, animation: false,
      lineStyle: {color: '#5a5a5a', width: 1, type: 'solid'}, label: {show: false},
      data: p.arrows.map(a => [{coord: [a[0], a[1]]}, {coord: [a[2], a[3]]}])}});

  graphics.push({type: 'text', x: TAG_POS[i][0], y: TAG_POS[i][1], silent: true,
    style: {text: p.tag, fontSize: 13, fontFamily: FONT, fill: '#333', align: 'left', verticalAlign: 'middle'}});
});

const COL_CX = [227, 603, 970];
COLUMN_TITLES.forEach((t, c) => graphics.push({type: 'text', x: COL_CX[c], y: 28, silent: true,
  style: {text: t, fontSize: 30, fontFamily: FONT, fill: '#000', align: 'center', verticalAlign: 'middle'}}));
const ROW_CY = [207, 517, 827];
ROW_TITLES.forEach((t, r) => graphics.push({type: 'text', x: 27, y: ROW_CY[r], rotation: Math.PI / 2, silent: true,
  style: {text: t, fontSize: 30, fontFamily: FONT, fill: '#000', align: 'center', verticalAlign: 'middle'}}));

const chart = echarts.init(document.getElementById('c'), null, {renderer: 'canvas'});
chart.setOption({animation: false, backgroundColor: '#fff', grid: grids, xAxis: xAxes, yAxis: yAxes, series, graphic: graphics});
</script>
</body></html>
